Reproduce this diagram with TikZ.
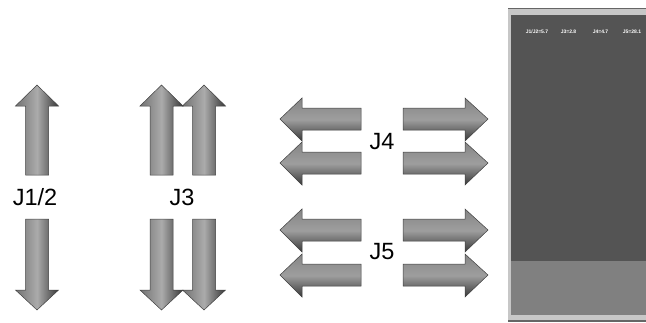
\documentclass[tikz,border=0pt]{standalone}
\usepackage{fontspec}
\setmainfont{Liberation Sans}
\begin{document}
\begin{tikzpicture}[x=1pt,y=-1pt,
  arrowline/.style={draw=black!75,line width=0.5pt},
  vshade/.style={arrowline,left color=black!55,right color=black!78,middle color=black!33},
  hshade/.style={arrowline,top color=black!48,bottom color=black!78,middle color=black!38},
  biglabel/.style={font=\fontsize{23.5}{25}\selectfont,inner sep=0pt},
  smalllabel/.style={font=\fontsize{5}{6}\selectfont\bfseries,text=white,inner sep=0pt}]
\useasboundingbox (0,0) rectangle (646,322);
\newcommand\uparr[1]{\path[vshade] (#1-11.5,175) -- (#1-11.5,106) -- (#1-21.5,106) -- (#1,85) -- (#1+21.5,106) -- (#1+11.5,106) -- (#1+11.5,175) -- cycle;}
\newcommand\downarr[1]{\path[vshade] (#1-11.5,219) -- (#1-11.5,290) -- (#1-21.5,290) -- (#1,310) -- (#1+21.5,290) -- (#1+11.5,290) -- (#1+11.5,219) -- cycle;}
\newcommand\leftarr[1]{\path[hshade] (361,#1-11) -- (302,#1-11) -- (302,#1-21) -- (280,#1) -- (302,#1+22) -- (302,#1+11) -- (361,#1+11) -- cycle;}
\newcommand\rightarr[1]{\path[hshade] (403,#1-11) -- (465,#1-11) -- (465,#1-21) -- (488,#1) -- (465,#1+22) -- (465,#1+11) -- (403,#1+11) -- cycle;}
\uparr{37}
\downarr{37}
\uparr{161.5}
\uparr{204}
\downarr{161.5}
\downarr{204}
\leftarr{119}
\leftarr{163}
\rightarr{119}
\rightarr{163}
\leftarr{230}
\leftarr{275}
\rightarr{230}
\rightarr{275}
\node[biglabel] (j12) at (35,197) {J1/2};
\node[biglabel] (j3) at (182,197) {J3};
\node[biglabel] (j4) at (382,142) {J4};
\node[biglabel] (j5) at (382,252) {J5};
% panel
\fill[black!22] (508,8) rectangle (646,322);
\draw[black!60,line width=1pt] (508,8.5) -- (646,8.5);
\fill[black!67] (511,15) rectangle (646,261);
\fill[black!50] (511,261) rectangle (646,315);
\fill[black!60] (508,320) rectangle (646,322);
\node[smalllabel] (p1) at (537,32) {J1/J2=5.7};
\node[smalllabel] (p2) at (568.5,32) {J3=2.8};
\node[smalllabel] (p3) at (600.5,32) {J4=4.7};
\node[smalllabel] (p4) at (632,32) {J5=28.1};
\end{tikzpicture}
\end{document}
